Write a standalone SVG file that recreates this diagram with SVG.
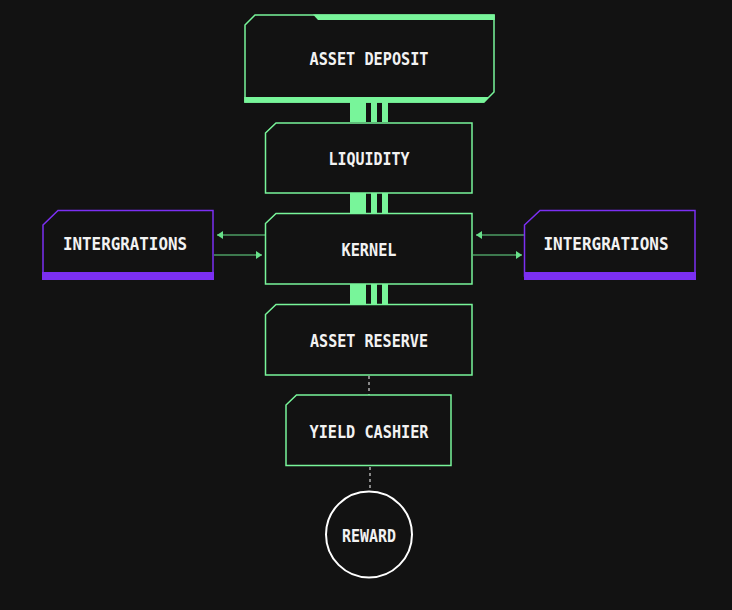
<svg xmlns="http://www.w3.org/2000/svg" width="732" height="610" viewBox="0 0 732 610">
<defs>
<style>
.g{fill:#121212;stroke:#78f59a;stroke-width:1.5}
.p{fill:#121212;stroke:#7b2ff2;stroke-width:1.5}
.gb{fill:#78f59a}
.pb{fill:#7b2ff2}
.t{font-family:"DejaVu Sans Mono","Liberation Mono",monospace;font-weight:bold;font-size:18px;fill:#f2f2f2;text-anchor:middle}
.a{stroke:#68e08a;stroke-width:1.2;fill:none}
.d{stroke:#b0b0b0;stroke-width:1.5;stroke-dasharray:3 3;fill:none}
</style>
<marker id="ah" viewBox="0 0 6 8" refX="6" refY="4" markerWidth="6" markerHeight="8" markerUnits="userSpaceOnUse" orient="auto">
<path d="M0,0 L6,4 L0,8 Z" fill="#68e08a"/>
</marker>
</defs>
<rect width="732" height="610" fill="#121212"/>
<g id="connectors">
<rect class="gb" x="350" y="102" width="16" height="20"/>
<rect class="gb" x="371" y="102" width="6" height="20"/>
<rect class="gb" x="382" y="102" width="6" height="20"/>
<rect class="gb" x="350" y="193" width="16" height="20"/>
<rect class="gb" x="371" y="193" width="6" height="20"/>
<rect class="gb" x="382" y="193" width="6" height="20"/>
<rect class="gb" x="350" y="284" width="16" height="20"/>
<rect class="gb" x="371" y="284" width="6" height="20"/>
<rect class="gb" x="382" y="284" width="6" height="20"/>
<line class="a" x1="265" y1="235" x2="217" y2="235" marker-end="url(#ah)"/>
<line class="a" x1="214" y1="255" x2="262" y2="255" marker-end="url(#ah)"/>
<line class="a" x1="524" y1="235" x2="476" y2="235" marker-end="url(#ah)"/>
<line class="a" x1="473" y1="255" x2="522" y2="255" marker-end="url(#ah)"/>
<line class="d" x1="369" y1="376" x2="369" y2="395"/>
<line class="d" x1="370" y1="467" x2="370" y2="491"/>
</g>
<g id="asset-deposit">
<path class="g" d="M245,25 L255,15 L494,15 L494,92 L484,102 L245,102 Z"/>
<path class="gb" d="M313,14.5 L494.8,14.5 L494.8,20 L318,20 Z"/>
<path class="gb" d="M244.2,97 L489,97 L484,102.8 L244.2,102.8 Z"/>
<text class="t" x="369" y="65" textLength="119" lengthAdjust="spacingAndGlyphs">ASSET DEPOSIT</text>
</g>
<g id="liquidity">
<path class="g" d="M265.5,133 L276,123 L472,123 L472,193 L265.5,193 Z"/>
<text class="t" x="369" y="165" textLength="81" lengthAdjust="spacingAndGlyphs">LIQUIDITY</text>
</g>
<g id="kernel">
<path class="g" d="M265.5,223.5 L276,213.5 L472,213.5 L472,284 L265.5,284 Z"/>
<text class="t" x="369" y="256" textLength="55" lengthAdjust="spacingAndGlyphs">KERNEL</text>
</g>
<g id="asset-reserve">
<path class="g" d="M265.5,314.5 L276,304.5 L472,304.5 L472,375 L265.5,375 Z"/>
<text class="t" x="369" y="346.5" textLength="118" lengthAdjust="spacingAndGlyphs">ASSET RESERVE</text>
</g>
<g id="yield-cashier">
<path class="g" d="M286,405 L296.5,395 L451,395 L451,465.5 L286,465.5 Z"/>
<text class="t" x="369" y="438" textLength="119" lengthAdjust="spacingAndGlyphs">YIELD CASHIER</text>
</g>
<g id="reward">
<circle cx="369" cy="534.5" r="43" fill="#121212" stroke="#ffffff" stroke-width="2"/>
<text class="t" x="369" y="541.5" textLength="54" lengthAdjust="spacingAndGlyphs">REWARD</text>
</g>
<g id="intergrations-left">
<path class="p" d="M43,225 L58,210.5 L213,210.5 L213,276 L43,276 Z"/>
<rect class="pb" x="42" y="272" width="172" height="8"/>
<text class="t" x="125" y="250" textLength="124" lengthAdjust="spacingAndGlyphs">INTERGRATIONS</text>
</g>
<g id="intergrations-right">
<path class="p" d="M524.5,225 L540,210.5 L695,210.5 L695,276 L524.5,276 Z"/>
<rect class="pb" x="524" y="272" width="172" height="8"/>
<text class="t" x="606" y="250" textLength="125" lengthAdjust="spacingAndGlyphs">INTERGRATIONS</text>
</g>
</svg>
